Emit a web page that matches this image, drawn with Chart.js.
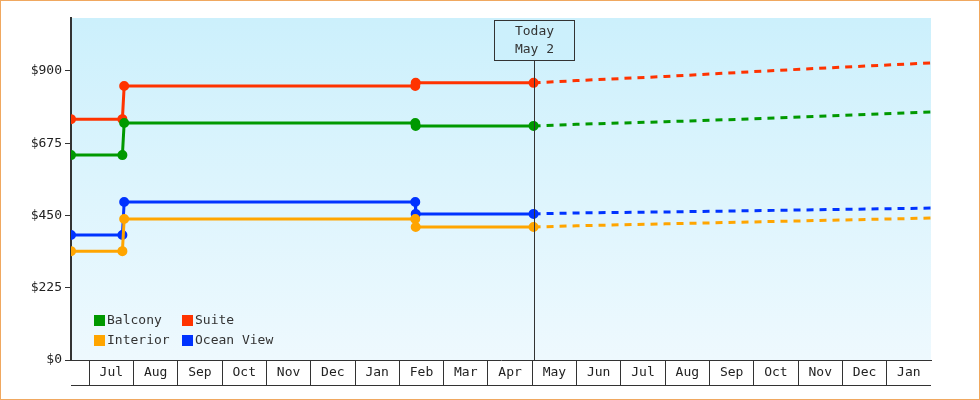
<!DOCTYPE html>
<html>
<head>
<meta charset="utf-8">
<script src="https://cdn.jsdelivr.net/npm/chart.js@4"></script>
<style>
  html, body { margin: 0; padding: 0; background: #fff; }
  #wrap { width: 978px; height: 398px; border: 1px solid #f0a860; }
</style>
</head>
<body>
<div id="wrap"><canvas id="c" width="978" height="398"></canvas></div>
<script>
// x values are months counted from June 1 of the first year (Jul = 1, ... Feb next year = 20)
const monthNames = ["Jun", "Jul", "Aug", "Sep", "Oct", "Nov", "Dec", "Jan", "Feb", "Mar", "Apr",
                    "May", "Jun", "Jul", "Aug", "Sep", "Oct", "Nov", "Dec", "Jan"];
const today = 11.03;
const priceTicks = [0, 225, 450, 675, 900];

const histX = [0.59, 1.75, 1.79, 8.36, 8.37, today];
const balcony  = [638, 638, 738, 738, 729, 729];
const suite    = [750, 750, 853, 853, 863, 863];
const ocean    = [389, 389, 492, 492, 455, 455];
const interior = [339, 339, 439, 439, 414, 414];

const projX = [today, 12, 14, 16, 18, 20];
const balconyProj  = [729, 734, 742, 751, 762, 772];
const suiteProj    = [863, 870, 883, 898, 912, 925];
const oceanProj    = [455, 458, 461, 465, 469, 473];
const interiorProj = [414, 418, 424, 430, 436, 442];

const series = [
  { label: "Balcony", color: "#009900", hist: balcony, proj: balconyProj },
  { label: "Suite", color: "#ff3300", hist: suite, proj: suiteProj },
  { label: "Interior", color: "#ffa500", hist: interior, proj: interiorProj },
  { label: "Ocean View", color: "#0033ff", hist: ocean, proj: oceanProj }
];

const pts = (xs, ys) => xs.map((x, i) => ({ x: x, y: ys[i] }));

const datasets = [];
series.forEach(s => {
  datasets.push({ label: s.label, data: pts(histX, s.hist), borderColor: s.color, backgroundColor: s.color,
    borderWidth: 3, pointRadius: 3.5, pointHoverRadius: 3.5, tension: 0 });
});
series.forEach(s => {
  datasets.push({ label: "", data: pts(projX, s.proj), borderColor: s.color, borderWidth: 3,
    borderDash: [7, 6], pointRadius: 0, tension: 0 });
});

const FONT = "DejaVu Sans Mono";

const decor = {
  id: "decor",
  beforeDraw(chart) {
    const { ctx, chartArea: a } = chart;
    const g = ctx.createLinearGradient(0, a.top, 0, a.bottom);
    g.addColorStop(0, "#ccf0fc");
    g.addColorStop(1, "#eef9fe");
    ctx.save();
    ctx.fillStyle = g;
    ctx.fillRect(a.left, a.top, a.right - a.left, a.bottom - a.top);
    ctx.restore();
  },
  afterDraw(chart) {
    const { ctx, chartArea: a, scales } = chart;
    ctx.save();
    ctx.strokeStyle = "#333";
    ctx.lineWidth = 1;
    ctx.beginPath();
    ctx.moveTo(a.left, a.bottom + 25.5);
    ctx.lineTo(a.right, a.bottom + 25.5);
    ctx.stroke();
    // month labels centred in their bands
    ctx.fillStyle = "#222";
    ctx.font = "13px " + FONT;
    ctx.textAlign = "center";
    ctx.textBaseline = "middle";
    for (let k = 1; k < 20; k++) {
      ctx.fillText(monthNames[k], scales.x.getPixelForValue(k + 0.5), a.bottom + 13);
    }
    // today line + label box
    const tx = Math.round(scales.x.getPixelForValue(today)) + 0.5;
    ctx.beginPath();
    ctx.moveTo(tx, 60);
    ctx.lineTo(tx, a.bottom);
    ctx.stroke();
    ctx.fillStyle = "#ccf0fc";
    ctx.fillRect(tx - 40, 19, 80, 41);
    ctx.strokeRect(tx - 40, 19.5, 80, 40);
    ctx.fillStyle = "#333";
    ctx.fillText("Today", tx, 31);
    ctx.fillText("May 2", tx, 49);
    // legend
    ctx.textAlign = "left";
    const lx = [93, 181], ly = [319, 339];
    series.forEach((s, i) => {
      const x = lx[i % 2], y = ly[Math.floor(i / 2)];
      ctx.fillStyle = s.color;
      ctx.fillRect(x, y - 5, 11, 11);
      ctx.fillStyle = "#333";
      ctx.fillText(s.label, x + 13, y + 1);
    });
    ctx.restore();
  }
};

new Chart(document.getElementById("c"), {
  type: "line",
  data: { datasets: datasets },
  plugins: [decor],
  options: {
    responsive: false,
    animation: false,
    layout: { padding: { top: 17, right: 48, left: 0, bottom: 0 } },
    plugins: { legend: { display: false }, tooltip: { enabled: false } },
    scales: {
      x: {
        type: "linear", min: 0.59, max: 20,
        afterBuildTicks(axis) {
          const t = [];
          for (let k = 1; k < 20; k++) t.push({ value: k });
          axis.ticks = t;
        },
        afterFit(axis) { axis.height = 39; },
        ticks: { display: false },
        grid: { drawOnChartArea: false, tickLength: 25, color: "#333" },
        border: { color: "#333", width: 1 }
      },
      y: {
        min: 0, max: 1065,
        afterBuildTicks(axis) { axis.ticks = priceTicks.map(v => ({ value: v })); },
        afterFit(axis) { axis.width = 70; },
        ticks: { color: "#222", padding: 3, font: { family: FONT, size: 13 }, callback: v => "$" + v },
        grid: { drawOnChartArea: false, tickLength: 6, color: "#333" },
        border: { color: "#333", width: 2 }
      }
    }
  }
});
</script>
</body>
</html>
